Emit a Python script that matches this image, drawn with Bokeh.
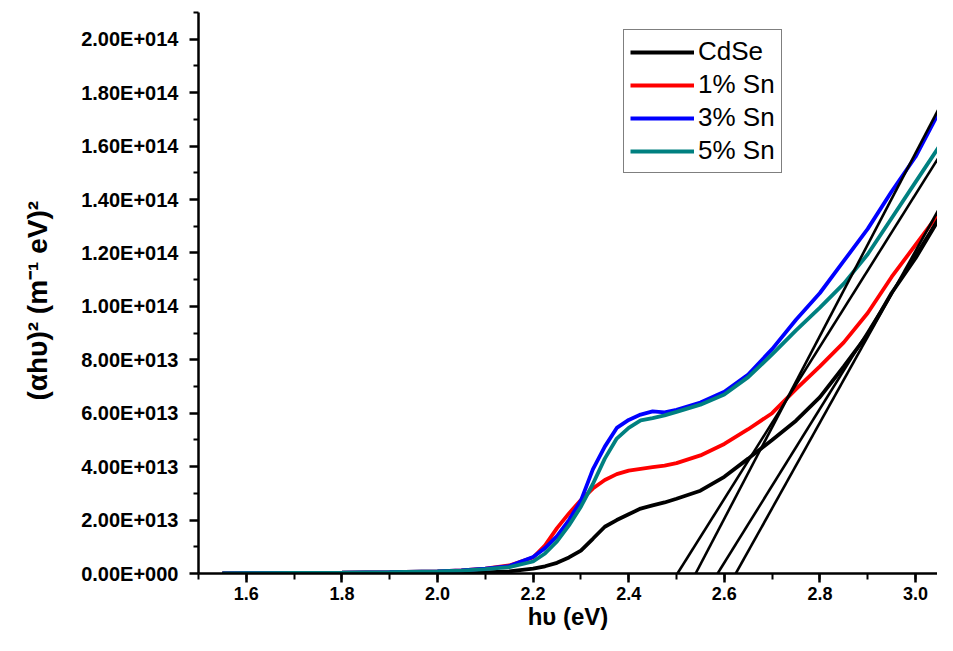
from bokeh.plotting import figure
from bokeh.models import FixedTicker, Legend, LegendItem, Range1d
from bokeh.embed import file_html
from bokeh.resources import INLINE

# ---- data (y values in units of 1e14 (m^-1 eV)^2) ----
energy = [1.55, 1.60, 1.70, 1.80, 1.90, 2.00, 2.05, 2.10, 2.15, 2.20, 2.225, 2.25,
          2.275, 2.30, 2.325, 2.35, 2.375, 2.40, 2.425, 2.45, 2.475, 2.50, 2.55,
          2.60, 2.65, 2.70, 2.75, 2.80, 2.85, 2.90, 2.95, 3.00, 3.05, 3.08]
cdse = [0.000, 0.000, 0.001, 0.001, 0.002, 0.002, 0.003, 0.004, 0.008, 0.018, 0.027,
        0.040, 0.060, 0.086, 0.130, 0.175, 0.200, 0.222, 0.243, 0.255, 0.266, 0.280,
        0.310, 0.362, 0.430, 0.500, 0.572, 0.660, 0.775, 0.895, 1.050, 1.180, 1.330, 1.440]
sn1 = [0.000, 0.001, 0.002, 0.003, 0.005, 0.008, 0.012, 0.018, 0.030, 0.060, 0.105,
       0.170, 0.225, 0.275, 0.318, 0.350, 0.372, 0.385, 0.392, 0.398, 0.404, 0.413,
       0.442, 0.485, 0.540, 0.600, 0.690, 0.775, 0.865, 0.975, 1.110, 1.230, 1.350, 1.430]
sn3 = [0.000, 0.001, 0.002, 0.003, 0.005, 0.008, 0.012, 0.018, 0.028, 0.062, 0.095,
       0.140, 0.200, 0.273, 0.390, 0.475, 0.545, 0.575, 0.595, 0.607, 0.603, 0.613,
       0.640, 0.680, 0.745, 0.840, 0.950, 1.050, 1.170, 1.290, 1.430, 1.560, 1.730, 1.850]
sn5 = [0.000, 0.001, 0.002, 0.003, 0.005, 0.008, 0.011, 0.016, 0.024, 0.045, 0.075,
       0.120, 0.180, 0.250, 0.335, 0.430, 0.505, 0.545, 0.573, 0.582, 0.592, 0.605,
       0.632, 0.670, 0.735, 0.820, 0.910, 0.995, 1.085, 1.195, 1.330, 1.465, 1.600, 1.685]

series_names = ["CdSe", "1% Sn", "3% Sn", "5% Sn"]
series_colors = ["#000000", "#FF0000", "#0000FF", "#008080"]

# tangent (Tauc) extrapolation lines: x-intercept (eV) and slope (1e14 per eV)
tan_eg = [2.624, 2.586, 2.540, 2.502]
tan_slope = [3.21, 2.88, 3.42, 2.85]
tan_xend = 3.10

x_ticks = [1.6, 1.8, 2.0, 2.2, 2.4, 2.6, 2.8, 3.0]
x_minor = [1.5, 1.6, 1.7, 1.8, 1.9, 2.0, 2.1, 2.2, 2.3, 2.4, 2.5, 2.6, 2.7, 2.8, 2.9, 3.0]
y_tick_labels = ["0.00E+000", "2.00E+013", "4.00E+013", "6.00E+013", "8.00E+013",
                 "1.00E+014", "1.20E+014", "1.40E+014", "1.60E+014", "1.80E+014",
                 "2.00E+014"]
y_tick_values = [0.0, 0.2, 0.4, 0.6, 0.8, 1.0, 1.2, 1.4, 1.6, 1.8, 2.0]
y_minor_values = [0.1, 0.3, 0.5, 0.7, 0.9, 1.1, 1.3, 1.5, 1.7, 1.9, 2.1]

SCALE = 1e14

p = figure(width=937, height=635, output_backend="svg", toolbar_location=None,
           x_range=Range1d(1.5, 3.046), y_range=Range1d(0, 2.1 * SCALE),
           min_border_left=198, min_border_right=0, min_border_top=12,
           min_border_bottom=62)
p.outline_line_color = None
p.xgrid.visible = False
p.ygrid.visible = False
p.background_fill_color = "white"

font = "Liberation Sans"

renderers = []
for name, ys, col in zip(series_names, [cdse, sn1, sn3, sn5], series_colors):
    r = p.line(energy, [v * SCALE for v in ys], line_color=col, line_width=3.8)
    renderers.append(r)

for eg, s in zip(tan_eg, tan_slope):
    p.line([eg, tan_xend], [0, s * (tan_xend - eg) * SCALE], line_color="black",
           line_width=2.6)

# axes
ax = p.xaxis[0]
ax.ticker = FixedTicker(ticks=x_ticks, minor_ticks=x_minor)
ax.major_label_overrides = {t: f"{t:.1f}" for t in x_ticks}
ay = p.yaxis[0]
ay.ticker = FixedTicker(ticks=[v * SCALE for v in y_tick_values],
                        minor_ticks=[v * SCALE for v in y_minor_values])
ay.major_label_overrides = {v * SCALE: lab for v, lab in zip(y_tick_values, y_tick_labels)}

for a in (ax, ay):
    a.axis_line_width = 2.5
    a.axis_line_color = "black"
    a.major_tick_line_width = 2.5
    a.minor_tick_line_width = 2
    a.major_tick_in = 0
    a.minor_tick_in = 0
    a.major_label_text_font = font
    a.major_label_text_font_style = "bold"
    a.major_label_text_color = "black"
    a.axis_label_text_font = font
    a.axis_label_text_font_style = "bold"
    a.axis_label_text_color = "black"

ax.major_label_text_font_size = "18px"
ax.major_tick_out = 9
ax.minor_tick_out = 6
ax.major_label_standoff = 4
ax.axis_label = "hυ (eV)"
ax.axis_label_text_font_size = "24px"
ax.axis_label_standoff = 0

ay.major_label_text_font_size = "20px"
ay.major_tick_out = 9
ay.minor_tick_out = 5
ay.major_label_standoff = 11
ay.axis_label = "(αhυ)²  (m⁻¹  eV)²"
ay.axis_label_text_font_size = "28px"
ay.axis_label_standoff = 25

legend = Legend(items=[LegendItem(label=n, renderers=[r]) for n, r in zip(series_names, renderers)],
                location=(425, 400))
legend.label_text_font = font
legend.label_text_font_size = "26px"
legend.label_text_color = "black"
legend.border_line_color = "black"
legend.border_line_width = 1
legend.background_fill_color = "white"
legend.background_fill_alpha = 1
legend.padding = 6
legend.spacing = 2
legend.margin = 0
legend.glyph_width = 64
legend.glyph_height = 30
legend.label_height = 30
legend.label_standoff = 4
p.add_layout(legend)

open("out.html", "w").write(file_html(p, INLINE))
